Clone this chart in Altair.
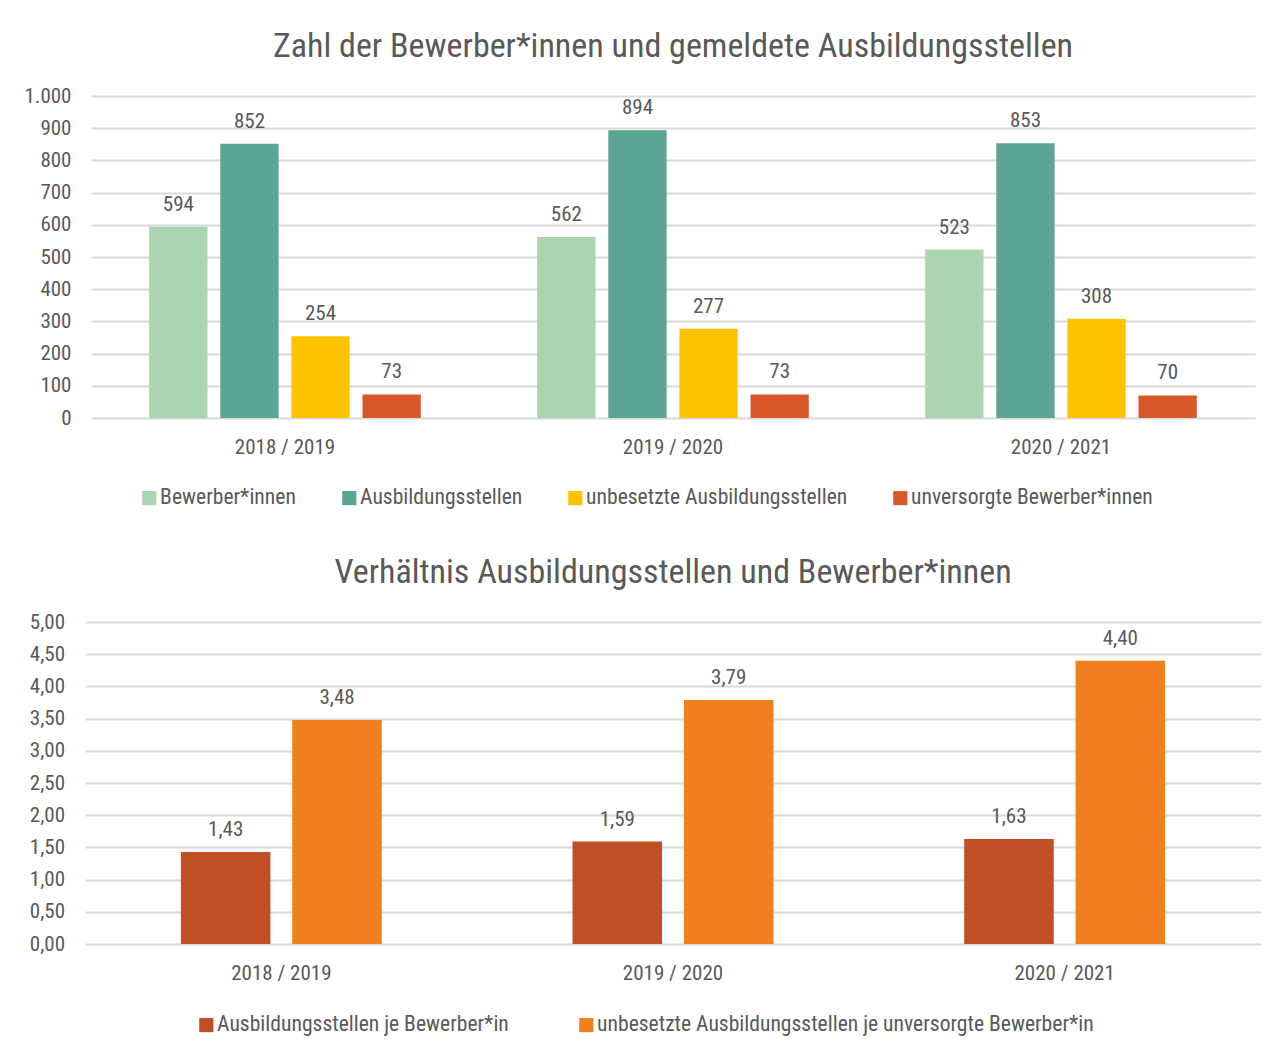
import altair as alt
import pandas as pd

years = ["2018 / 2019", "2019 / 2020", "2020 / 2021"]
series_top = ["Bewerber*innen", "Ausbildungsstellen", "unbesetzte Ausbildungsstellen", "unversorgte Bewerber*innen"]
bewerber = [594, 562, 523]
stellen = [852, 894, 853]
unbesetzt = [254, 277, 308]
unversorgt = [73, 73, 70]
colors_top = ["#A9D5B0", "#5BA594", "#FDC300", "#D9582A"]

series_bot = ["Ausbildungsstellen je Bewerber*in", "unbesetzte Ausbildungsstellen je unversorgte Bewerber*in"]
ratio_stellen = [1.43, 1.59, 1.63]
ratio_unbesetzt = [3.48, 3.79, 4.40]
colors_bot = ["#C04F24", "#EF801D"]

FONT = "Liberation Sans Narrow, Roboto Condensed, Roboto, sans-serif"
TXT = "#595959"
GRID = "#D9D9D9"

rows = []
for vals, s in zip([bewerber, stellen, unbesetzt, unversorgt], series_top):
    for y, v in zip(years, vals):
        rows.append({"Jahr": y, "Serie": s, "Wert": v})
df_top = pd.DataFrame(rows)

rows = []
for vals, s in zip([ratio_stellen, ratio_unbesetzt], series_bot):
    for y, v in zip(years, vals):
        rows.append({"Jahr": y, "Serie": s, "Wert": v})
df_bot = pd.DataFrame(rows)

W1, W2, H = 1164, 1175, 322

base_top = alt.Chart(df_top).encode(
    x=alt.X("Jahr:N", sort=years, title=None,
            scale=alt.Scale(paddingInner=0.3, paddingOuter=0.15),
            axis=alt.Axis(labelAngle=0, domain=False, ticks=False, labelPadding=18,
                          labelFontSize=21, labelColor=TXT, labelFont=FONT)),
    xOffset=alt.XOffset("Serie:N", sort=series_top,
                        scale=alt.Scale(paddingInner=0.18, paddingOuter=0)),
    y=alt.Y("Wert:Q", title=None,
            scale=alt.Scale(domain=[0, 1000], nice=False),
            axis=alt.Axis(values=list(range(0, 1001, 100)), domain=False, ticks=False,
                          labelPadding=20, labelFontSize=21, labelColor=TXT, labelFont=FONT,
                          gridColor=GRID, gridWidth=2,
                          labelExpr="replace(format(datum.value, ',d'), ',', '.')")),
)
bars_top = base_top.mark_bar().encode(
    color=alt.Color("Serie:N", sort=series_top,
                    scale=alt.Scale(domain=series_top, range=colors_top),
                    legend=alt.Legend(title=None, orient="none", direction="horizontal",
                                      legendX=47.5, legendY=391, labelLimit=0,
                                      symbolType="square", symbolSize=200, symbolStrokeWidth=0,
                                      labelFontSize=21.6, labelColor=TXT, labelFont=FONT,
                                      labelOffset=0, columnPadding=42, symbolOpacity=1))
)
text_top = base_top.mark_text(baseline="bottom", dy=-12, fontSize=21, color=TXT, font=FONT).encode(
    text=alt.Text("Wert:Q", format="d")
)
top = alt.layer(bars_top, text_top).properties(
    width=W1, height=H,
    title=alt.Title("Zahl der Bewerber*innen und gemeldete Ausbildungsstellen",
                    fontSize=34, font=FONT, color=TXT, fontWeight="normal", offset=21)
)

base_bot = alt.Chart(df_bot).transform_calculate(
    label="replace(format(datum.Wert, '.2f'), '.', ',')"
).encode(
    x=alt.X("Jahr:N", sort=years, title=None,
            scale=alt.Scale(paddingInner=0.487, paddingOuter=0.2435),
            axis=alt.Axis(labelAngle=0, domain=False, ticks=False, labelPadding=18,
                          labelFontSize=21, labelColor=TXT, labelFont=FONT)),
    xOffset=alt.XOffset("Serie:N", sort=series_bot,
                        scale=alt.Scale(paddingInner=0.196, paddingOuter=0)),
    y=alt.Y("Wert:Q", title=None,
            scale=alt.Scale(domain=[0, 5], nice=False),
            axis=alt.Axis(values=[i * 0.5 for i in range(11)], domain=False, ticks=False,
                          labelPadding=21, labelFontSize=21, labelColor=TXT, labelFont=FONT,
                          gridColor=GRID, gridWidth=2,
                          labelExpr="replace(format(datum.value, '.2f'), '.', ',')")),
)
bars_bot = base_bot.mark_bar().encode(
    color=alt.Color("Serie:N", sort=series_bot,
                    scale=alt.Scale(domain=series_bot, range=colors_bot),
                    legend=alt.Legend(title=None, orient="none", direction="horizontal",
                                      legendX=110, legendY=392, labelLimit=0,
                                      symbolType="square", symbolSize=200, symbolStrokeWidth=0,
                                      labelFontSize=21.6, labelColor=TXT, labelFont=FONT,
                                      labelOffset=0, columnPadding=66, symbolOpacity=1))
)
text_bot = base_bot.mark_text(baseline="bottom", dy=-12, fontSize=21, color=TXT, font=FONT).encode(
    text="label:N"
)
bot = alt.layer(bars_bot, text_bot).properties(
    width=W2, height=H,
    title=alt.Title("Verhältnis Ausbildungsstellen und Bewerber*innen",
                    fontSize=34, font=FONT, color=TXT, fontWeight="normal", offset=21)
)

chart = alt.vconcat(
    top, bot, spacing=47, center=True,
    padding={"left": 15.5, "top": 22, "right": 5, "bottom": 5}
).resolve_scale(
    color="independent", x="independent", y="independent", xOffset="independent"
).resolve_legend(color="independent").configure_view(strokeWidth=0, stroke="transparent")

chart.save("out.html", embed_options={"renderer": "svg", "actions": False})
